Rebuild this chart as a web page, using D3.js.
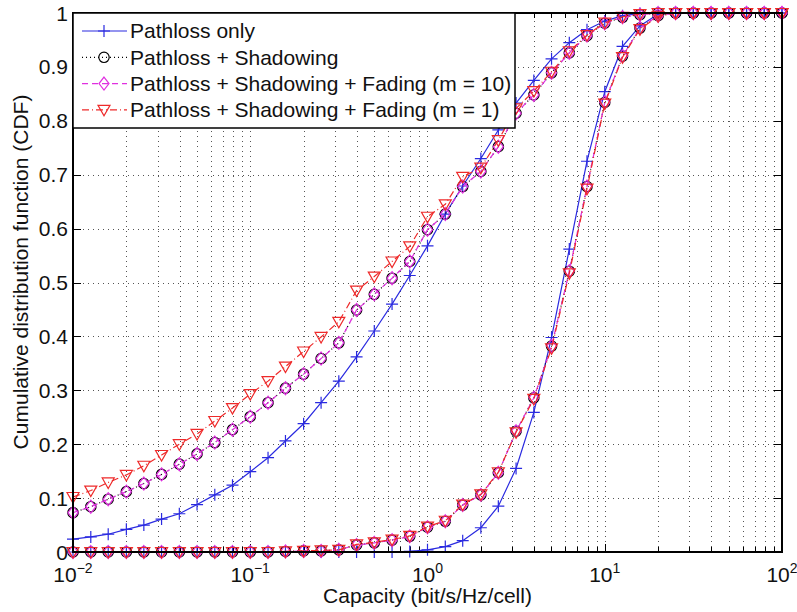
<!DOCTYPE html>
<html lang="en">
<head>
    <meta charset="UTF-8">
    <title>Capacity CDF</title>
    <style type="text/css">
        * {
            margin: 0;
            padding: 0;
        }

        body {
            background: #fff;
        }

        #chart-area text {
            font-family: "Liberation Sans", Arial, sans-serif;
        }
    </style>
</head>
<body>
<div id="chart-area"></div>
<script src="https://cdn.jsdelivr.net/npm/d3@7/dist/d3.min.js"></script>
<script type="text/javascript">

  const WIDTH = 797
  const HEIGHT = 612

  // capacity grid (bit/s/Hz/cell), 10 points per decade
  const capacity = [0.01, 0.0126, 0.0158, 0.02, 0.0251, 0.0316, 0.0398, 0.0501, 0.0631, 0.0794,
    0.1, 0.126, 0.158, 0.2, 0.251, 0.316, 0.398, 0.501, 0.631, 0.794,
    1, 1.26, 1.58, 2, 2.51, 3.16, 3.98, 5.01, 6.31, 7.94,
    10, 12.6, 15.8, 20, 25.1, 31.6, 39.8, 50.1, 63.1, 79.4, 100]

  // left family of curves
  const pathlossA = [0.024, 0.028, 0.033, 0.042, 0.050, 0.061, 0.071, 0.088, 0.106, 0.124,
    0.149, 0.175, 0.206, 0.238, 0.277, 0.317, 0.362, 0.410, 0.460, 0.513,
    0.568, 0.627, 0.679, 0.730, 0.783, 0.833, 0.875, 0.915, 0.945, 0.969,
    0.985, 0.995, 0.999, 1, 1, 1, 1, 1, 1, 1, 1]
  const shadowA = [0.073, 0.084, 0.098, 0.112, 0.127, 0.144, 0.163, 0.182, 0.203, 0.227,
    0.251, 0.277, 0.304, 0.330, 0.359, 0.388, 0.449, 0.478, 0.508, 0.539,
    0.598, 0.627, 0.678, 0.706, 0.752, 0.814, 0.848, 0.889, 0.926, 0.958,
    0.981, 0.992, 0.997, 1, 1, 1, 1, 1, 1, 1, 1]
  const fading10A = [0.073, 0.084, 0.098, 0.112, 0.127, 0.144, 0.163, 0.182, 0.203, 0.227,
    0.251, 0.277, 0.304, 0.330, 0.359, 0.388, 0.449, 0.478, 0.508, 0.539,
    0.598, 0.627, 0.678, 0.706, 0.752, 0.814, 0.848, 0.889, 0.926, 0.958,
    0.981, 0.992, 0.997, 1, 1, 1, 1, 1, 1, 1, 1]
  const fading1A = [0.102, 0.114, 0.129, 0.143, 0.160, 0.180, 0.200, 0.219, 0.243, 0.267,
    0.293, 0.317, 0.344, 0.372, 0.399, 0.427, 0.485, 0.511, 0.539, 0.567,
    0.622, 0.645, 0.696, 0.713, 0.764, 0.823, 0.855, 0.891, 0.929, 0.959,
    0.982, 0.993, 0.998, 1, 1, 1, 1, 1, 1, 1, 1]

  // right family of curves
  const pathlossB = [0, 0, 0, 0, 0, 0, 0, 0, 0, 0,
    0, 0, 0, 0, 0, 0, 0, 0, 0, 0.001,
    0.004, 0.010, 0.021, 0.045, 0.085, 0.155, 0.259, 0.398, 0.562, 0.725,
    0.854, 0.938, 0.976, 0.998, 1, 1, 1, 1, 1, 1, 1]
  const shadowB = [0, 0, 0, 0, 0, 0, 0, 0, 0, 0,
    0, 0, 0.001, 0.002, 0.002, 0.004, 0.013, 0.017, 0.022, 0.029,
    0.046, 0.057, 0.087, 0.106, 0.147, 0.224, 0.286, 0.382, 0.521, 0.678,
    0.834, 0.920, 0.972, 0.995, 1, 1, 1, 1, 1, 1, 1]
  const fading10B = [0, 0, 0, 0, 0, 0, 0, 0, 0, 0,
    0, 0, 0.001, 0.002, 0.002, 0.004, 0.013, 0.017, 0.022, 0.029,
    0.046, 0.057, 0.087, 0.106, 0.147, 0.224, 0.286, 0.382, 0.521, 0.678,
    0.834, 0.920, 0.972, 0.995, 1, 1, 1, 1, 1, 1, 1]
  const fading1B = [0, 0, 0, 0, 0, 0, 0, 0, 0, 0,
    0, 0, 0.001, 0.002, 0.003, 0.004, 0.014, 0.018, 0.023, 0.030,
    0.047, 0.058, 0.088, 0.107, 0.148, 0.222, 0.284, 0.378, 0.517, 0.674,
    0.832, 0.918, 0.970, 0.994, 1, 1, 1, 1, 1, 1, 1]

  const yTicks = [0, 0.1, 0.2, 0.3, 0.4, 0.5, 0.6, 0.7, 0.8, 0.9, 1]
  const xDecades = [0.01, 0.1, 1, 10, 100]
  const xExponents = ['\u22122', '\u22121', '0', '1', '2']

  const legendLabels = [
    'Pathloss only',
    'Pathloss + Shadowing',
    'Pathloss + Shadowing + Fading (m = 10)',
    'Pathloss + Shadowing + Fading (m = 1)'
  ]

  const styles = [
    {color: '#2a2ae0', dash: null, marker: 'plus'},
    {color: '#000000', dash: '1,3', marker: 'circle'},
    {color: '#e030e0', dash: '6,4', marker: 'diamond'},
    {color: '#ee2a2a', dash: '7,3,1,3', marker: 'triangle'}
  ]

  const series = [
    {style: 0, values: pathlossA}, {style: 0, values: pathlossB},
    {style: 1, values: shadowA}, {style: 1, values: shadowB},
    {style: 2, values: fading10A}, {style: 2, values: fading10B},
    {style: 3, values: fading1A}, {style: 3, values: fading1B}
  ]

  const margin = {left: 73, right: 15, top: 13, bottom: 60}
  const FONT = '21px'

  const svg = d3.select('#chart-area').append('svg')
      .attr('width', WIDTH)
      .attr('height', HEIGHT)

  const x = d3.scaleLog()
      .domain([0.01, 100])
      .range([margin.left, WIDTH - margin.right])
  const y = d3.scaleLinear()
      .domain([0, 1])
      .range([HEIGHT - margin.bottom, margin.top])

  const x0 = x.range()[0], x1 = x.range()[1]
  const y0 = y.range()[0], y1 = y.range()[1]

  // log ticks incl. minors
  const xAll = x.ticks(40)

  // grid
  const grid = svg.append('g')
      .attr('stroke', '#555')
      .attr('stroke-width', 1)
      .attr('stroke-dasharray', '1,4')
  grid.selectAll('.gx')
      .data(xAll.filter(d => d > 0.01 && d < 100))
      .enter().append('line')
      .attr('x1', d => Math.round(x(d)) + 0.5)
      .attr('x2', d => Math.round(x(d)) + 0.5)
      .attr('y1', y0)
      .attr('y2', y1)
  grid.selectAll('.gy')
      .data(yTicks.filter(d => d > 0 && d < 1))
      .enter().append('line')
      .attr('x1', x0)
      .attr('x2', x1)
      .attr('y1', d => Math.round(y(d)) + 0.5)
      .attr('y2', d => Math.round(y(d)) + 0.5)

  // ticks on all four sides, pointing inward
  const ticks = svg.append('g').attr('stroke', '#000').attr('stroke-width', 1)
  xAll.forEach(d => {
    const len = xDecades.includes(d) ? 8 : 5
    const px = Math.round(x(d)) + 0.5
    ticks.append('line').attr('x1', px).attr('x2', px).attr('y1', y0).attr('y2', y0 - len)
    ticks.append('line').attr('x1', px).attr('x2', px).attr('y1', y1).attr('y2', y1 + len)
  })
  yTicks.forEach(d => {
    const py = Math.round(y(d)) + 0.5
    ticks.append('line').attr('x1', x0).attr('x2', x0 + 8).attr('y1', py).attr('y2', py)
    ticks.append('line').attr('x1', x1).attr('x2', x1 - 8).attr('y1', py).attr('y2', py)
  })

  // markers
  const markerPath = {
    plus: 'M-6,0H6M0,-6V6',
    diamond: 'M0,-6.5L5,0L0,6.5L-5,0Z',
    triangle: 'M-6,-4.5L6,-4.5L0,6Z'
  }

  function drawMarker(sel, kind, color) {
    if (kind === 'circle') {
      sel.append('circle').attr('r', 5.2)
          .attr('fill', 'none').attr('stroke', color).attr('stroke-width', 1.2)
    } else {
      sel.append('path').attr('d', markerPath[kind])
          .attr('fill', 'none').attr('stroke', color).attr('stroke-width', 1.2)
    }
  }

  const line = d3.line()
      .x((d, i) => x(capacity[i]))
      .y(d => y(d))

  series.forEach(s => {
    const st = styles[s.style]
    const g = svg.append('g')
    g.append('path')
        .attr('d', line(s.values))
        .attr('fill', 'none')
        .attr('stroke', st.color)
        .attr('stroke-width', 1.2)
        .attr('stroke-dasharray', st.dash)
    g.selectAll('.m')
        .data(s.values)
        .enter().append('g')
        .attr('transform', (d, i) => `translate(${x(capacity[i])}, ${y(d)})`)
        .each(function () {
          drawMarker(d3.select(this), st.marker, st.color)
        })
  })

  // axes box
  svg.append('rect')
      .attr('x', x0)
      .attr('y', y1)
      .attr('width', x1 - x0)
      .attr('height', y0 - y1)
      .attr('fill', 'none')
      .attr('stroke', '#000')
      .attr('stroke-width', 2)

  // tick labels
  svg.selectAll('.ylab')
      .data(yTicks)
      .enter().append('text')
      .attr('x', x0 - 5)
      .attr('y', d => y(d))
      .attr('dy', '0.36em')
      .attr('text-anchor', 'end')
      .attr('font-size', FONT)
      .attr('fill', '#111')
      .text(d => d === 0 || d === 1 ? d : d.toFixed(1))

  const xl = svg.selectAll('.xlab')
      .data(xDecades)
      .enter().append('text')
      .attr('x', d => x(d))
      .attr('y', y0 + 30)
      .attr('text-anchor', 'middle')
      .attr('font-size', FONT)
      .attr('fill', '#111')
  xl.append('tspan').text('10')
  xl.append('tspan')
      .attr('dy', -9)
      .attr('font-size', '14px')
      .text((d, i) => xExponents[i])

  svg.append('text')
      .attr('x', (x0 + x1) / 2)
      .attr('y', 603)
      .attr('text-anchor', 'middle')
      .attr('font-size', FONT)
      .attr('fill', '#111')
      .text('Capacity (bit/s/Hz/cell)')

  svg.append('text')
      .attr('transform', 'translate(28, 272) rotate(-90)')
      .attr('text-anchor', 'middle')
      .attr('font-size', FONT)
      .attr('fill', '#111')
      .text('Cumulative distribution function (CDF)')

  // legend
  const legend = svg.append('g')
  legend.append('rect')
      .attr('x', x0)
      .attr('y', y1)
      .attr('width', 442)
      .attr('height', 115)
      .attr('fill', '#fff')
      .attr('stroke', '#000')
      .attr('stroke-width', 1.5)

  const item = legend.selectAll('.item')
      .data(legendLabels)
      .enter().append('g')
      .attr('transform', (d, i) => `translate(0, ${31 + i * 26.3})`)

  item.append('line')
      .attr('x1', 82)
      .attr('x2', 127)
      .attr('stroke', (d, i) => styles[i].color)
      .attr('stroke-width', 1.2)
      .attr('stroke-dasharray', (d, i) => styles[i].dash)
  item.append('g')
      .attr('transform', 'translate(104, 0)')
      .each(function (d, i) {
        drawMarker(d3.select(this), styles[i].marker, styles[i].color)
      })
  item.append('text')
      .attr('x', 130)
      .attr('dy', '0.35em')
      .attr('font-size', FONT)
      .attr('fill', '#111')
      .text(d => d)

</script>
</body>
</html>
